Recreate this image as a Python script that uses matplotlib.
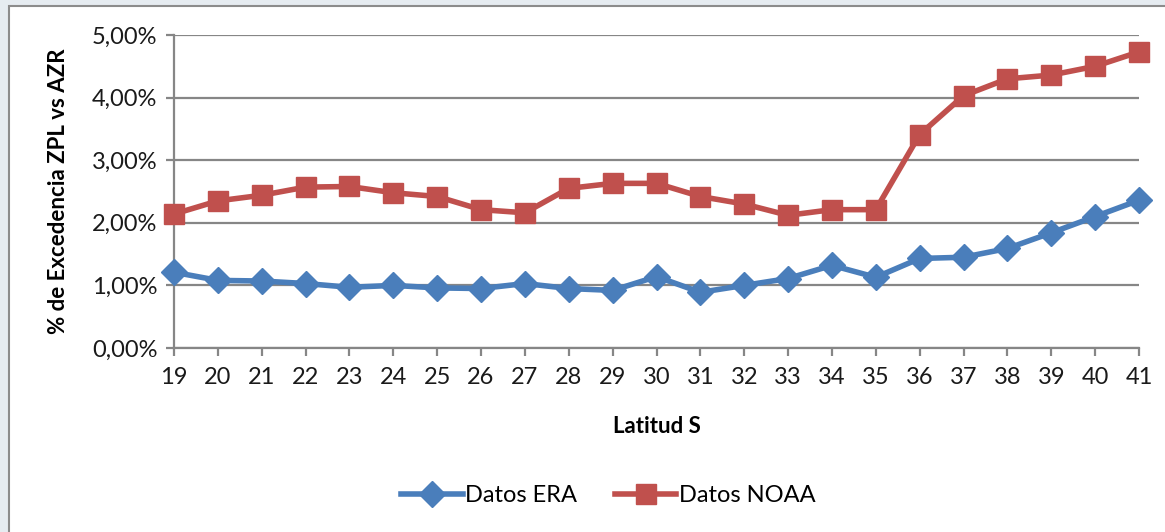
import matplotlib.pyplot as plt
from matplotlib import ticker
from matplotlib.patches import Rectangle

# Latitud sur y porcentaje de excedencia de cada fuente
latitud = list(range(19, 42))
datos_era = [1.21, 1.08, 1.07, 1.03, 0.97, 1.00, 0.96, 0.95, 1.03, 0.95, 0.92, 1.14,
             0.89, 1.00, 1.11, 1.32, 1.13, 1.43, 1.45, 1.59, 1.84, 2.10, 2.36]
datos_noaa = [2.14, 2.35, 2.44, 2.57, 2.58, 2.48, 2.42, 2.21, 2.16, 2.55, 2.63, 2.63,
              2.42, 2.30, 2.12, 2.21, 2.21, 3.41, 4.03, 4.30, 4.36, 4.50, 4.73]
yticks = [0, 1, 2, 3, 4, 5]

plt.rcParams['font.family'] = ['Lato', 'DejaVu Sans']

fig = plt.figure(figsize=(11.65, 5.32), dpi=100, facecolor='#e6ecf1')

# marco blanco del grafico
W, H = 1165, 532
fig.add_artist(Rectangle((9 / W, -0.1), 1.2, 1 - 6 / H + 0.1, transform=fig.transFigure,
                         facecolor='white', edgecolor='#8c8c8c', linewidth=1.5, zorder=-5))

ax = fig.add_axes([174 / W, 1 - 348 / H, (1139 - 174) / W, (348 - 35) / H])
ax.set_facecolor('none')

ax.plot(latitud, datos_era, color='#4a7ebb', linewidth=4, marker='D', markersize=13,
        label='Datos ERA', zorder=3, clip_on=False)
ax.plot(latitud, datos_noaa, color='#c0504d', linewidth=4, marker='s', markersize=15,
        label='Datos NOAA', zorder=3, clip_on=False)

ax.set_xlim(19, 41)
ax.set_ylim(0, 5)
ax.set_xticks(latitud)
ax.set_yticks(yticks)
ax.yaxis.set_major_formatter(ticker.FuncFormatter(lambda v, p: f'{v:.2f}'.replace('.', ',') + '%'))

ax.grid(axis='y', color='#868686', linewidth=1.6)
ax.set_axisbelow(True)
for s in ['top', 'right']:
    ax.spines[s].set_visible(False)
for s in ['left', 'bottom']:
    ax.spines[s].set_color('#868686')
    ax.spines[s].set_linewidth(1.6)
ax.tick_params(axis='both', colors='#868686', width=1.6, length=6, labelsize=17,
               labelcolor='#1a1a1a')
ax.tick_params(axis='y', pad=6)
ax.tick_params(axis='x', pad=8)

ax.set_ylabel('% de Excedencia ZPL vs AZR', fontsize=16, fontweight='bold', labelpad=16)
ax.set_xlabel('Latitud S', fontsize=16, fontweight='bold', labelpad=20)

ax.legend(loc='upper center', bbox_to_anchor=(0.45, -0.37), ncol=2, frameon=False,
          fontsize=17, handlelength=2.6, handletextpad=0.1, columnspacing=1.6)

fig.savefig('out.png', dpi=100, facecolor=fig.get_facecolor())
